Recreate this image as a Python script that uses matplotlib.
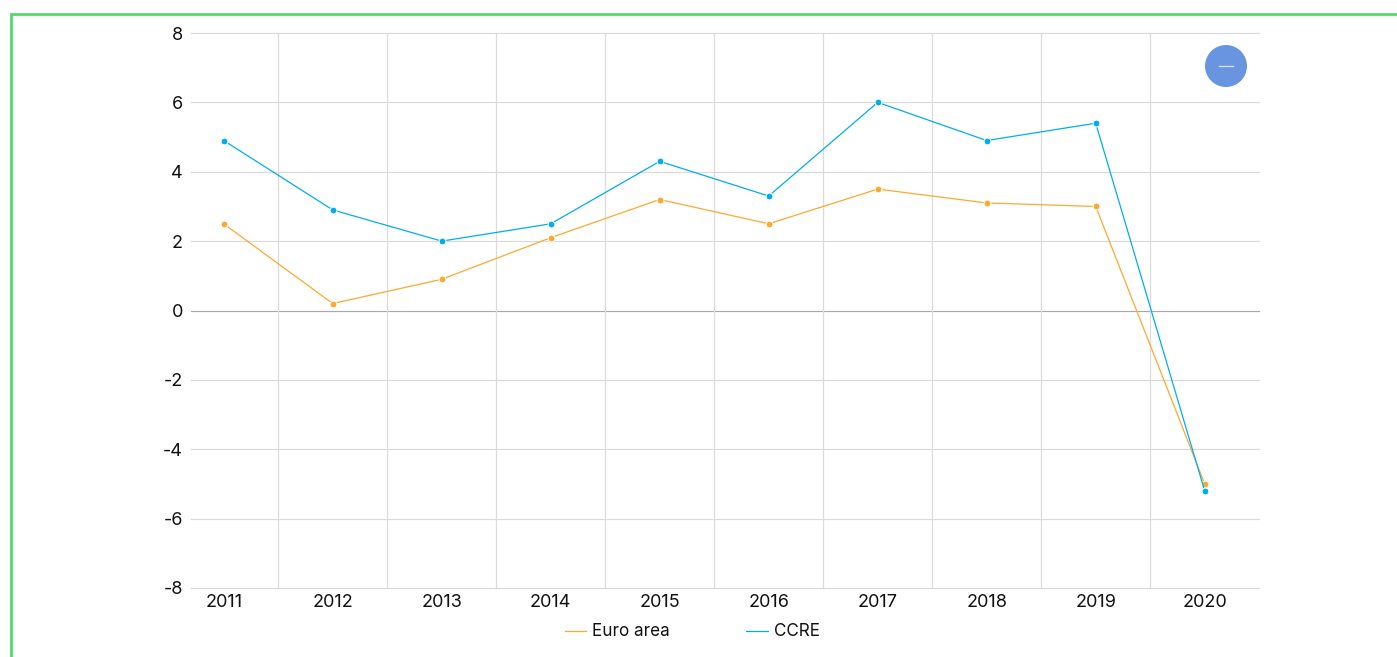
import matplotlib
matplotlib.use('Agg')
import matplotlib.pyplot as plt
from matplotlib.patches import Circle

W, H = 1397, 657

years = ['2011', '2012', '2013', '2014', '2015', '2016', '2017', '2018', '2019', '2020']
euro_area = [2.5, 0.2, 0.9, 2.1, 3.2, 2.5, 3.5, 3.1, 3.0, -5.0]
ccre = [4.9, 2.9, 2.0, 2.5, 4.3, 3.3, 6.0, 4.9, 5.4, -5.2]
y_ticks = [8, 6, 4, 2, 0, -2, -4, -6, -8]

ORANGE = '#FDA92F'
BLUE = '#00AEEF'
TEXT = '#111111'

plt.rcParams['font.family'] = ['Inter', 'DejaVu Sans']

fig = plt.figure(figsize=(W / 100, H / 100), dpi=100)

# plot area in pixels: x 190.5-1259, y 33-588
ax = fig.add_axes([190.5 / W, 1 - 588 / H, (1259 - 190.5) / W, (588 - 33) / H])
ax.set_xlim((190.5 - 223.7) / 109, (1259 - 223.7) / 109)
ax.set_ylim(-8, 8)

for s in ax.spines.values():
    s.set_visible(False)

for v in y_ticks:
    c = '#A9A9A9' if v == 0 else '#DADADA'
    ax.axhline(v, color=c, lw=0.85, zorder=1, clip_on=False)
for i in range(len(years) - 1):
    ax.axvline(i + 0.5, color='#DCDCDC', lw=0.9, zorder=1)

xs = list(range(len(years)))
line1, = ax.plot(xs, euro_area, color=ORANGE, lw=0.9, marker='o', ms=4.9, mfc=ORANGE,
                 mec='white', mew=0.7, zorder=3, label='Euro area', clip_on=False)
line2, = ax.plot(xs, ccre, color=BLUE, lw=0.9, marker='o', ms=4.9, mfc=BLUE,
                 mec='white', mew=0.7, zorder=4, label='CCRE', clip_on=False)

ax.set_xticks(xs)
ax.set_xticklabels(years)
ax.set_yticks(y_ticks)
ax.set_yticklabels([str(v) for v in y_ticks])
ax.tick_params(axis='x', length=0, pad=4.5, labelsize=13, labelcolor=TEXT)
ax.tick_params(axis='y', length=0, pad=5.5, labelsize=13, labelcolor=TEXT)

# overlay in pixel coordinates for the page furniture
over = fig.add_axes([0, 0, 1, 1], facecolor='none')
over.set_xlim(0, W)
over.set_ylim(H, 0)
over.axis('off')

# green frame, runs off the bottom and right of the crop
over.plot([11, 11, W], [H, 14, 14], color='#54DA6C', lw=2.0, solid_joinstyle='miter')

# collapse button
over.add_patch(Circle((1226, 66), 21, fc='#6995E0', ec='none'))
over.plot([1219, 1233], [66, 66], color='#D5DEEF', lw=1.0)

# legend
over.plot([565, 586], [631, 631], color=ORANGE, lw=0.9)
over.text(592, 631, 'Euro area', fontsize=12.3, color=TEXT, va='center', ha='left')
over.plot([746, 768], [631, 631], color=BLUE, lw=0.9)
over.text(774, 631, 'CCRE', fontsize=12.3, color=TEXT, va='center', ha='left')

fig.savefig('out.png', dpi=100)
